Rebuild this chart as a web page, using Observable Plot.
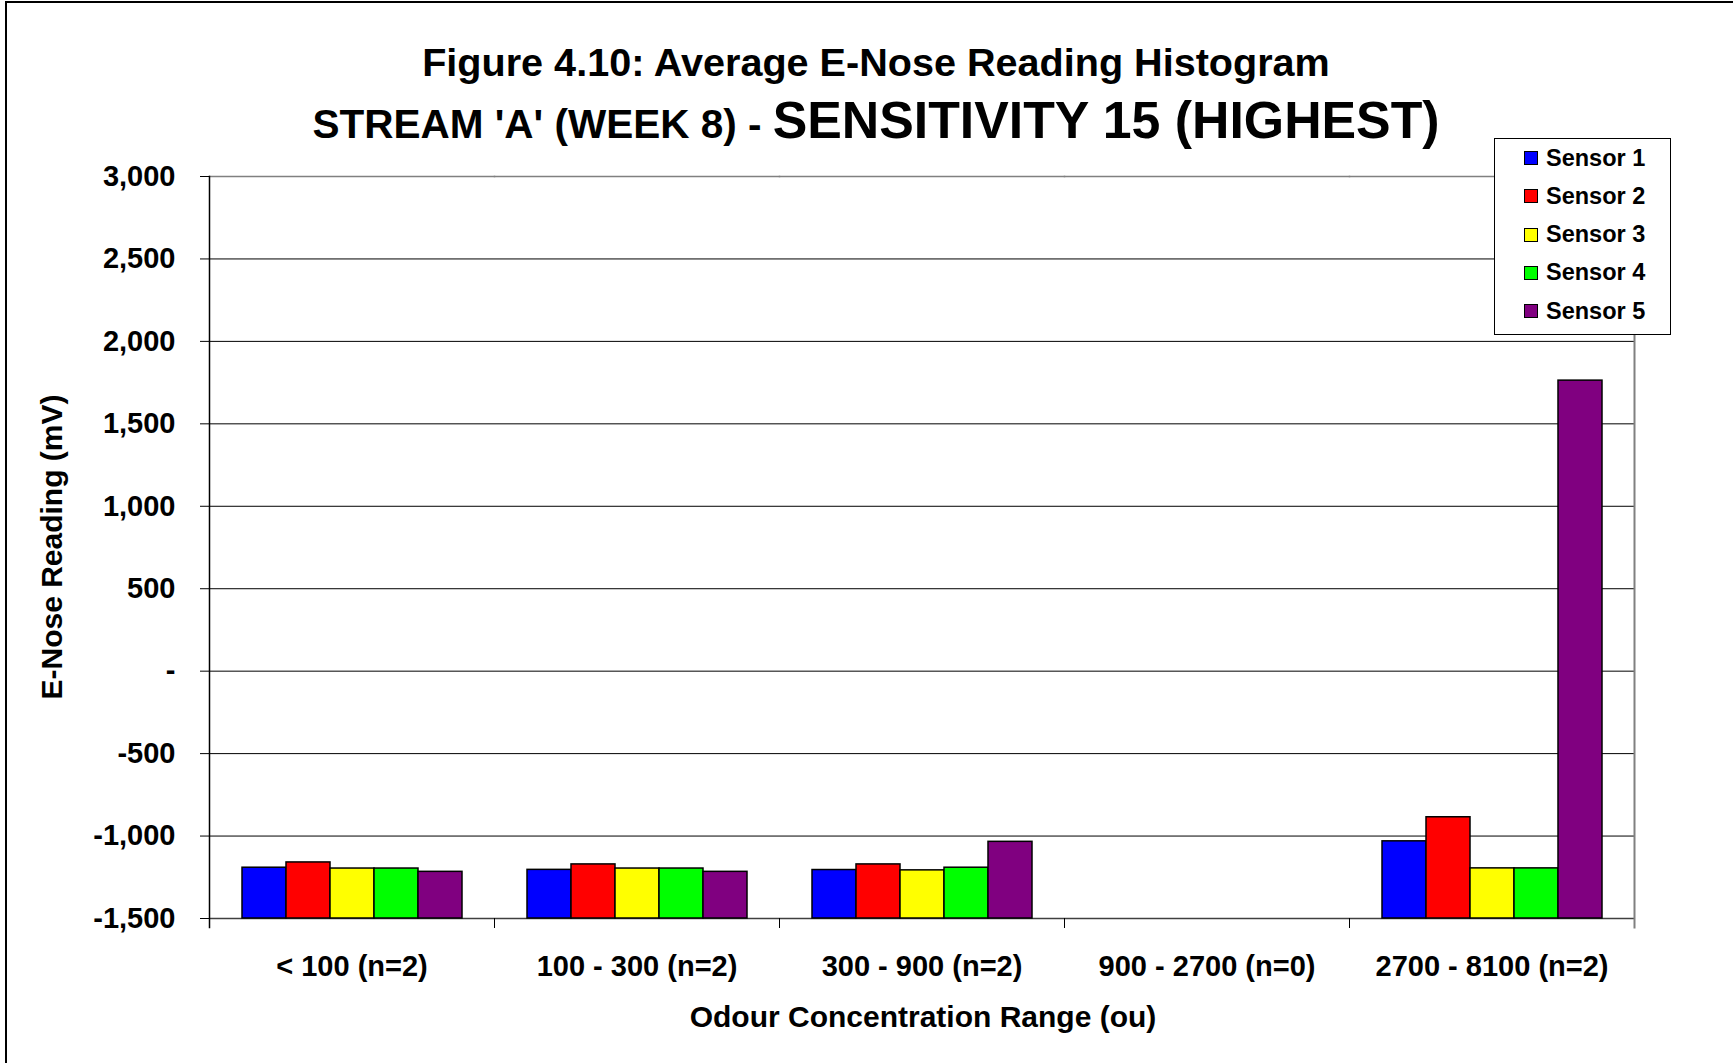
<!DOCTYPE html>
<html>
<head>
<meta charset="utf-8">
<script src="https://cdn.jsdelivr.net/npm/d3@7"></script>
<script src="https://cdn.jsdelivr.net/npm/@observablehq/plot@0.6"></script>
<style>
  html, body { margin: 0; padding: 0; background: #fff; }
  #wrap { position: relative; width: 1733px; height: 1063px; overflow: hidden;
          font-family: "Liberation Sans", Arial, sans-serif; font-weight: bold; color: #000; background: #fff; }
  #border { position: absolute; left: 5px; top: 1px; width: 1800px; height: 1100px;
            border-left: 2px solid #000; border-top: 2px solid #000; }
  .abs { position: absolute; white-space: nowrap; }
  #chart { left: 0; top: 0; }
  #t1 { left: 76px; width: 1600px; text-align: center; top: 43px; font-size: 39.6px; line-height: 39.6px; }
  #t2 { left: 76px; width: 1600px; text-align: center; top: 95px; font-size: 51.8px; line-height: 51.8px; }
  #t2 .small { font-size: 40.5px; }
  #xtitle { left: 923px; top: 1017px; font-size: 30px; line-height: 30px; transform: translate(-50%, -50%); }
  #ytitle { left: 52px; top: 547px; font-size: 30px; line-height: 30px; transform: translate(-50%, -50%) rotate(-90deg); }
  #legend { left: 1494px; top: 138px; width: 175px; height: 195px; border: 1px solid #000; background: #fff; }
  .row { position: absolute; left: 0; height: 38px; display: flex; align-items: center; font-size: 23.5px; }
  .sw { width: 12px; height: 12px; border: 1px solid #000; margin-left: 29px; margin-right: 8px; }
</style>
</head>
<body>
<div id="wrap">
  <div id="border"></div>
  <div id="chart" class="abs"></div>
  <div id="t1" class="abs"></div>
  <div id="t2" class="abs"><span class="small"></span><span class="big"></span></div>
  <div id="xtitle" class="abs"></div>
  <div id="ytitle" class="abs"></div>
  <div id="legend" class="abs"></div>
</div>
<script>
// ---- data ----
const titleLine1 = "Figure 4.10: Average E-Nose Reading Histogram";
const titleLine2a = "STREAM 'A' (WEEK 8) - ";
const titleLine2b = "SENSITIVITY 15 (HIGHEST)";
const xTitle = "Odour Concentration Range (ou)";
const yTitle = "E-Nose Reading (mV)";

const categories = ["< 100 (n=2)", "100 - 300 (n=2)", "300 - 900 (n=2)", "900 - 2700 (n=0)", "2700 - 8100 (n=2)"];
const sensors = ["Sensor 1", "Sensor 2", "Sensor 3", "Sensor 4", "Sensor 5"];
const sensorColors = ["#0000FF", "#FF0000", "#FFFF00", "#00FF00", "#800080"];

const sensor1 = [-1192, -1205, -1206, null, -1032];
const sensor2 = [-1160, -1172, -1172, null, -886];
const sensor3 = [-1197, -1197, -1208, null, -1196];
const sensor4 = [-1197, -1197, -1192, null, -1196];
const sensor5 = [-1217, -1217, -1035, null, 1762];

const yMin = -1500, yMax = 3000;
const yTicks = [-1500, -1000, -500, 0, 500, 1000, 1500, 2000, 2500, 3000];

// ---- build table ----
const series = [sensor1, sensor2, sensor3, sensor4, sensor5];
const rows = [];
categories.forEach((c, i) => sensors.forEach((s, j) => rows.push({category: c, sensor: s, value: series[j][i]})));

// ---- layout ----
const W = 1733, H = 1063;
const mTop = 176, mBottom = 145, mLeft = 207, mRight = 98;
const innerH = H - mTop - mBottom;
const fmt = d3.formatLocale({decimal: ".", thousands: ",", grouping: [3], currency: ["", ""], minus: "-"}).format(",");

const chart = Plot.plot({
  width: W, height: H,
  marginTop: mTop, marginBottom: mBottom, marginLeft: mLeft, marginRight: mRight,
  style: {fontFamily: '"Liberation Sans", Arial, sans-serif', fontSize: "29px", fontWeight: "bold",
          color: "#000", background: "transparent", overflow: "visible"},
  fx: {domain: categories, padding: 0, label: null},
  x: {domain: sensors, paddingInner: 0, paddingOuter: 0.72, axis: null},
  y: {domain: [yMin, yMax], label: null},
  color: {domain: sensors, range: sensorColors},
  marks: [
    Plot.gridY({ticks: yTicks, stroke: "#000", strokeOpacity: 1, strokeWidth: 1}),
    Plot.frame({anchor: "top", stroke: "#808080", strokeWidth: 1.5}),
    Plot.ruleY(categories, {fx: d => d, y: yMin, stroke: "#404040", strokeWidth: 1.5}),
    Plot.barY(rows, {fx: "category", x: "sensor", y1: yMin, y2: "value", fill: "sensor", stroke: "#000", strokeWidth: 1.5}),
    Plot.frame({anchor: "left", stroke: "#000", strokeWidth: 1, insetTop: innerH, insetBottom: -9}),
    Plot.frame({anchor: "right", stroke: "#808080", strokeWidth: 2, insetBottom: -9, fx: () => categories[categories.length - 1]}),
    Plot.frame({anchor: "left", stroke: "#000", strokeWidth: 1.5, insetBottom: -9, fx: () => categories[0]}),
    Plot.axisY({ticks: yTicks, tickSize: 9, tickPadding: 25, stroke: "#000", label: null,
                tickFormat: d => d === 0 ? "-" : fmt(d)}),
    Plot.axisFx({anchor: "bottom", tickSize: 0, tickPadding: 37, label: null})
  ]
});
document.getElementById("chart").appendChild(chart);

// ---- titles ----
document.getElementById("t1").textContent = titleLine1;
document.querySelector("#t2 .small").textContent = titleLine2a;
document.querySelector("#t2 .big").textContent = titleLine2b;
document.getElementById("xtitle").textContent = xTitle;
document.getElementById("ytitle").textContent = yTitle;

// ---- legend ----
const legend = document.getElementById("legend");
sensors.forEach((s, i) => {
  const row = document.createElement("div");
  row.className = "row";
  row.style.top = (0 + i * 38.3) + "px";
  const sw = document.createElement("div");
  sw.className = "sw";
  sw.style.background = sensorColors[i];
  const label = document.createElement("span");
  label.textContent = s;
  row.appendChild(sw);
  row.appendChild(label);
  legend.appendChild(row);
});
</script>
</body>
</html>
